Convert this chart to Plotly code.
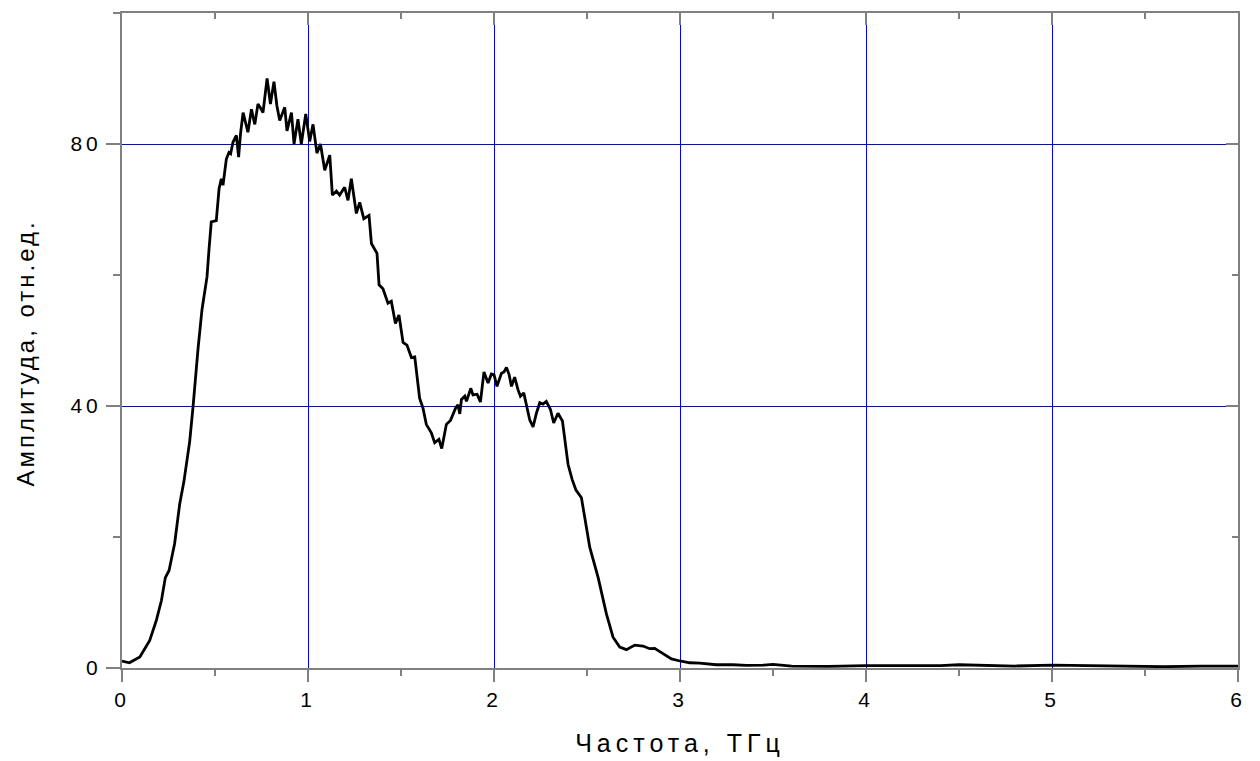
import plotly.graph_objects as go

# Frequency (THz) and amplitude (arb. units)
freq = [0.0, 0.04, 0.096, 0.122, 0.149, 0.185, 0.212, 0.233, 0.253, 0.283,
        0.31, 0.333, 0.364, 0.382, 0.396, 0.409, 0.43, 0.445, 0.457, 0.468,
        0.48, 0.507, 0.522, 0.534, 0.543, 0.561, 0.575, 0.584, 0.597, 0.615,
        0.627, 0.637, 0.651, 0.677, 0.696, 0.714, 0.731, 0.749, 0.758, 0.78,
        0.798, 0.817, 0.833, 0.848, 0.875, 0.887, 0.911, 0.925, 0.946, 0.964,
        0.988, 1.009, 1.027, 1.048, 1.067, 1.09, 1.117, 1.131, 1.153, 1.17,
        1.197, 1.215, 1.233, 1.26, 1.278, 1.3, 1.328, 1.341, 1.371, 1.382,
        1.403, 1.43, 1.448, 1.47, 1.489, 1.511, 1.532, 1.556, 1.574, 1.6,
        1.618, 1.636, 1.663, 1.681, 1.704, 1.719, 1.744, 1.766, 1.794, 1.806,
        1.816, 1.825, 1.843, 1.852, 1.875, 1.887, 1.909, 1.927, 1.946, 1.968,
        1.986, 2.0, 2.016, 2.04, 2.054, 2.067, 2.081, 2.094, 2.111, 2.129,
        2.142, 2.16, 2.174, 2.192, 2.21, 2.228, 2.246, 2.263, 2.281, 2.303,
        2.321, 2.344, 2.368, 2.389, 2.398, 2.42, 2.44, 2.47, 2.515, 2.56,
        2.604, 2.64, 2.676, 2.712, 2.757, 2.801, 2.837, 2.864, 2.909, 2.954,
        3.0, 3.052, 3.106, 3.196, 3.285, 3.357, 3.45, 3.5, 3.6, 3.8,
        4.0, 4.2, 4.4, 4.5, 4.6, 4.8, 5.0, 5.2, 5.4, 5.6,
        5.8, 6.0]
amp = [1.06, 0.8, 1.7, 2.9, 4.2, 7.3, 10.3, 13.8, 14.9, 19.0,
       25.0, 28.5, 34.6, 39.9, 44.8, 48.8, 54.7, 57.9, 59.7, 64.0,
       68.1, 68.3, 73.2, 74.7, 73.7, 77.7, 78.7, 78.5, 80.3, 81.3,
       78.0, 81.5, 84.8, 81.8, 85.3, 83.0, 86.1, 85.3, 84.8, 90.0,
       86.1, 89.5, 85.8, 83.6, 85.6, 82.0, 84.8, 80.0, 83.8, 80.0,
       84.6, 80.4, 83.0, 78.6, 80.0, 76.0, 78.3, 72.2, 72.8, 72.2,
       73.4, 71.4, 74.7, 69.4, 71.1, 68.6, 69.1, 64.8, 63.3, 58.5,
       57.9, 55.7, 56.0, 52.6, 53.9, 49.7, 49.3, 47.4, 47.5, 41.2,
       39.7, 37.2, 35.9, 34.4, 34.9, 33.5, 37.2, 37.8, 39.7, 40.2,
       38.8, 41.0, 41.5, 40.7, 42.7, 41.7, 41.8, 40.6, 45.2, 43.5,
       44.9, 44.8, 43.0, 45.0, 45.2, 45.9, 44.8, 43.0, 44.4, 42.5,
       41.5, 42.0, 40.2, 37.9, 36.8, 38.9, 40.5, 40.3, 40.7, 39.5,
       37.4, 38.9, 37.7, 33.1, 31.1, 28.8, 27.2, 26.0, 18.4, 13.8,
       8.3, 4.7, 3.2, 2.8, 3.5, 3.35, 2.95, 3.0, 2.2, 1.4,
       1.07, 0.8, 0.75, 0.5, 0.5, 0.4, 0.45, 0.55, 0.3, 0.25,
       0.35, 0.3, 0.35, 0.5, 0.4, 0.3, 0.45, 0.35, 0.25, 0.2,
       0.3, 0.3]

x_ticks = [0, 1, 2, 3, 4, 5, 6]
y_ticks = [0, 40, 80]
x_title = "Частота, ТГц"
y_title = "Амплитуда, отн.ед."

GRAY = "#808080"
GRID = "rgb(0,0,255)"
FONT = "Liberation Sans, Arial, sans-serif"

fig = go.Figure()
fig.add_trace(go.Scatter(x=freq, y=amp, mode="lines",
                         line=dict(color="black", width=2.8),
                         showlegend=False, hoverinfo="skip"))
# invisible trace to anchor the mirrored (top/right) axes
fig.add_trace(go.Scatter(x=[0, 6], y=[0, 100], xaxis="x2", yaxis="y2",
                         mode="markers", marker=dict(opacity=0),
                         showlegend=False, hoverinfo="skip"))

common = dict(showline=True, linecolor=GRAY, linewidth=2, zeroline=False,
              tickcolor=GRAY, tickwidth=2)

# page body has an 8px default margin: compensate so the plot area lands
# at x 122..1238, y 11..668 in the window
fig.update_layout(
    width=1260, height=761,
    margin=dict(l=114, r=30, t=3, b=101),
    paper_bgcolor="white", plot_bgcolor="white",
    font=dict(family=FONT, color="black"),
    xaxis=dict(range=[0, 6], tickmode="array", tickvals=x_ticks,
               ticks="outside", ticklen=12, mirror=True,
               showgrid=True, gridcolor=GRID, gridwidth=1,
               tickfont=dict(size=21),
               minor=dict(tickmode="linear", tick0=0, dtick=0.5, ticks="outside",
                          ticklen=6, tickcolor=GRAY, tickwidth=2, showgrid=False),
               title=dict(text=x_title, font=dict(size=25), standoff=24),
               **common),
    yaxis=dict(range=[0, 100], tickmode="array", tickvals=y_ticks,
               ticks="outside", ticklen=14, mirror=True,
               showgrid=True, gridcolor=GRID, gridwidth=1,
               tickfont=dict(size=21),
               minor=dict(tickmode="linear", tick0=0, dtick=20, ticks="outside",
                          ticklen=7, tickcolor=GRAY, tickwidth=2, showgrid=False),
               **common),
    xaxis2=dict(range=[0, 6], overlaying="x", side="top", anchor="y",
                tickmode="array", tickvals=x_ticks, ticks="inside", ticklen=12,
                showticklabels=False, showgrid=False, zeroline=False,
                showline=False, tickcolor=GRAY, tickwidth=2,
                minor=dict(tickmode="linear", tick0=0, dtick=0.5, ticks="inside",
                           ticklen=6, tickcolor=GRAY, tickwidth=2, showgrid=False)),
    yaxis2=dict(range=[0, 100], overlaying="y", side="right", anchor="x",
                tickmode="array", tickvals=y_ticks, ticks="inside", ticklen=12,
                showticklabels=False, showgrid=False, zeroline=False,
                showline=False, tickcolor=GRAY, tickwidth=2,
                minor=dict(tickmode="linear", tick0=0, dtick=20, ticks="inside",
                           ticklen=6, tickcolor=GRAY, tickwidth=2, showgrid=False)),
    annotations=[dict(text=y_title, textangle=-90, showarrow=False,
                      xref="paper", yref="paper", x=0, y=0.48,
                      xanchor="center", yanchor="middle", xshift=-96,
                      font=dict(size=24, color="black"))],
)

# the reference text is letter-spaced; apply it with a stylesheet
post = """
var s = document.createElement('style');
s.textContent = '.xtick text, .ytick text {letter-spacing: 4px;} ' +
                'text.xtitle {letter-spacing: 5px;} ' +
                '.annotation-text {letter-spacing: 3px;}';
document.head.appendChild(s);
"""

fig.write_html("out.html", post_script=post)
